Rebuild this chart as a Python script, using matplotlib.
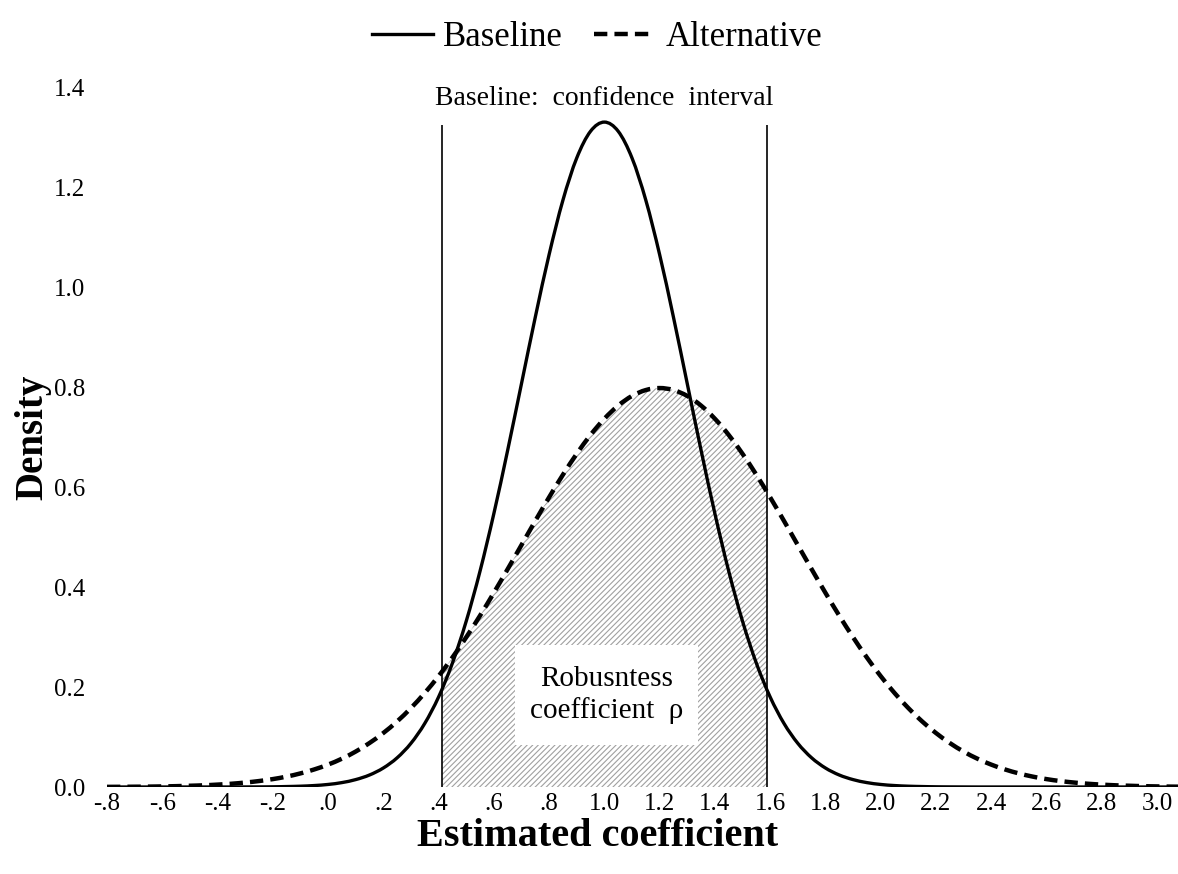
import numpy as np
import matplotlib
matplotlib.use("Agg")
import matplotlib.pyplot as plt
from matplotlib.patches import Rectangle, PathPatch
from matplotlib.path import Path
from matplotlib.lines import Line2D

plt.rcParams['font.family'] = ['Liberation Serif', 'DejaVu Serif']
plt.rcParams['hatch.linewidth'] = 0.8
plt.rcParams['hatch.color'] = '#a0a0a0'

# densities, x step .05 from -.8 to 3.1
x = np.round(np.arange(-0.80, 3.101, 0.05), 2)
baseline = [0, 0, 0, 0, 0, 0, 0, 0, 0, 0,
            0.0001, 0.0002, 0.0004, 0.0009, 0.0016, 0.0029, 0.0051, 0.0088, 0.0148, 0.0240,
            0.0380, 0.0584, 0.0874, 0.1272, 0.1800, 0.2477, 0.3316, 0.4317, 0.5467, 0.6734,
            0.8066, 0.9397, 1.0648, 1.1736, 1.2580, 1.3115, 1.3298, 1.3115, 1.2580, 1.1736,
            1.0648, 0.9397, 0.8066, 0.6734, 0.5467, 0.4317, 0.3316, 0.2477, 0.1800, 0.1272,
            0.0874, 0.0584, 0.0380, 0.0240, 0.0148, 0.0088, 0.0051, 0.0029, 0.0016, 0.0009,
            0.0004, 0.0002, 0.0001, 0, 0, 0, 0, 0, 0, 0,
            0, 0, 0, 0, 0, 0, 0, 0, 0]
alternative = [0.0003, 0.0004, 0.0006, 0.0008, 0.0012, 0.0017, 0.0025, 0.0034, 0.0048, 0.0065,
               0.0089, 0.0119, 0.0158, 0.0208, 0.0272, 0.0351, 0.0448, 0.0566, 0.0709, 0.0880,
               0.1080, 0.1312, 0.1579, 0.1881, 0.2218, 0.2590, 0.2995, 0.3427, 0.3884, 0.4357,
               0.4839, 0.5322, 0.5794, 0.6245, 0.6664, 0.7041, 0.7365, 0.7628, 0.7821, 0.7939,
               0.7979, 0.7939, 0.7821, 0.7628, 0.7365, 0.7041, 0.6664, 0.6245, 0.5794, 0.5322,
               0.4839, 0.4357, 0.3884, 0.3427, 0.2995, 0.2590, 0.2218, 0.1881, 0.1579, 0.1312,
               0.1080, 0.0880, 0.0709, 0.0566, 0.0448, 0.0351, 0.0272, 0.0208, 0.0158, 0.0119,
               0.0089, 0.0065, 0.0048, 0.0034, 0.0025, 0.0017, 0.0012, 0.0008, 0.0006]
ci = [0.412, 1.588]
ci_top = 1.324

xticks = [-0.8, -0.6, -0.4, -0.2, 0.0, 0.2, 0.4, 0.6, 0.8, 1.0, 1.2, 1.4, 1.6, 1.8, 2.0, 2.2, 2.4, 2.6, 2.8, 3.0]
xlabels = ['-.8', '-.6', '-.4', '-.2', '.0', '.2', '.4', '.6', '.8', '1.0', '1.2', '1.4', '1.6',
           '1.8', '2.0', '2.2', '2.4', '2.6', '2.8', '3.0']
yticks = [0.0, 0.2, 0.4, 0.6, 0.8, 1.0, 1.2, 1.4]
ylabels = ['0.0', '0.2', '0.4', '0.6', '0.8', '1.0', '1.2', '1.4']


def smooth_path(xs, ys):
    # catmull-rom through the points, drawn as bezier segments
    p = np.column_stack([xs, ys]).astype(float)
    pts = np.vstack([p[0], p, p[-1]])
    verts = [p[0]]
    codes = [Path.MOVETO]
    for i in range(1, len(pts) - 2):
        c1 = pts[i] + (pts[i+1] - pts[i-1]) / 6
        c2 = pts[i+1] - (pts[i+2] - pts[i]) / 6
        verts += [c1, c2, pts[i+1]]
        codes += [Path.CURVE4] * 3
    return Path(verts, codes)


fig = plt.figure(figsize=(11.78, 8.74), dpi=100)
ax = fig.add_axes([107/1178, 87/874, 1071/1178, 700/874])

# hatched area under the alternative inside the interval
alt_path = smooth_path(x, alternative)
area = Path(np.vstack([alt_path.vertices, [[x[-1], 0], [x[0], 0], alt_path.vertices[0]]]),
            list(alt_path.codes) + [Path.LINETO, Path.LINETO, Path.CLOSEPOLY])
fill = PathPatch(area, facecolor='white', edgecolor='#a0a0a0', hatch='//////', linewidth=0, zorder=1)
ax.add_patch(fill)
clip = Rectangle((ci[0], 0), ci[1]-ci[0], 2, transform=ax.transData)
fill.set_clip_path(clip)

ax.vlines(ci, 0, ci_top, color='black', lw=1.2, zorder=2)

ax.add_patch(Rectangle((0.677, 0.084), 0.663, 0.2, facecolor='white', edgecolor='none', zorder=3))
ax.text(1.008, 0.184, 'Robusntess\ncoefficient  \u03c1', ha='center', va='center',
        fontsize=21, linespacing=1.2, zorder=4)
ax.text(1.0, 1.377, 'Baseline:  confidence  interval', ha='center', va='center', fontsize=20)

ax.add_patch(PathPatch(smooth_path(x, baseline), fill=False, edgecolor='black', lw=2.4, zorder=5))
ax.add_patch(PathPatch(alt_path, fill=False, edgecolor='black', lw=3.2,
                       linestyle=(0, (3, 1.6)), zorder=6))

ax.set_xlim(-0.8, 3.076)
ax.set_ylim(0, 1.4)
ax.set_xticks(xticks)
ax.set_xticklabels(xlabels)
ax.set_yticks(yticks)
ax.set_yticklabels(ylabels)
ax.tick_params(length=0, labelsize=18)
ax.tick_params(axis='y', pad=16)
ax.tick_params(axis='x', pad=4)
for s in ax.spines.values():
    s.set_visible(False)

ax.set_xlabel('Estimated coefficient', fontsize=29, fontweight='bold')
ax.xaxis.set_label_coords(0.458, -0.044)
ax.set_ylabel('Density', fontsize=28, fontweight='bold')
ax.yaxis.set_label_coords(-0.052, 0.5)

h1 = Line2D([], [], color='black', lw=2.4)
h2 = Line2D([], [], color='black', lw=3.2, dashes=(3, 1.6))
fig.legend([h1, h2], ['Baseline', 'Alternative'], loc='upper center', bbox_to_anchor=(0.507, 1.012),
           ncol=2, frameon=False, fontsize=25, handlelength=1.75, columnspacing=0.9, handletextpad=0.3)

fig.savefig('out.png', dpi=100)
